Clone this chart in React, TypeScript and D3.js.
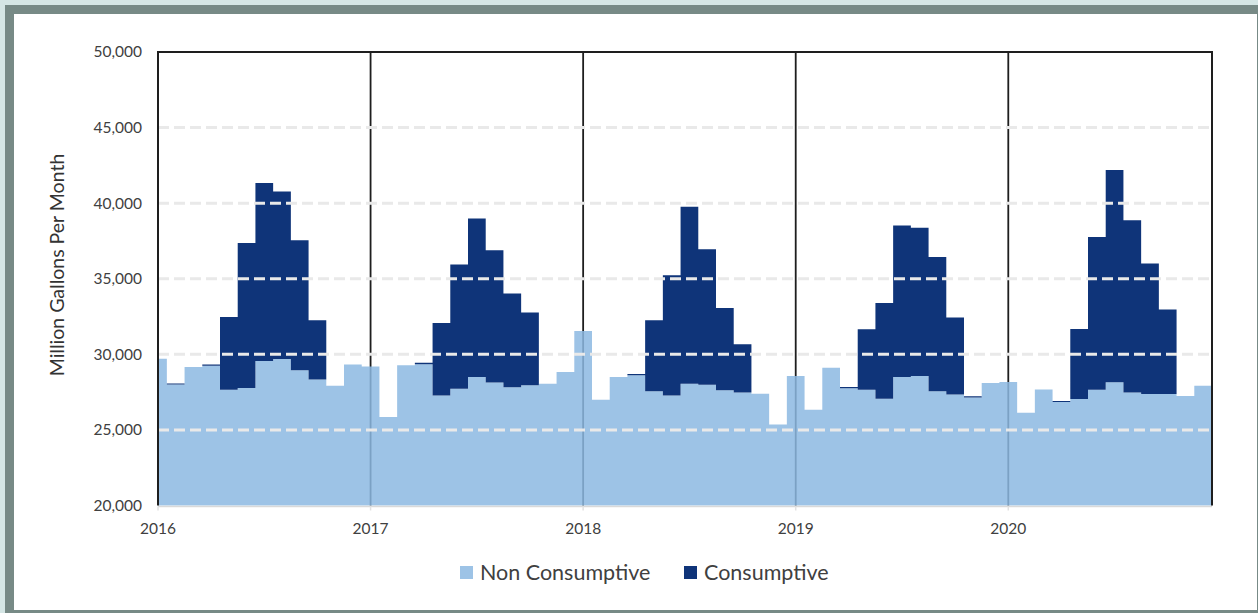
import React from "react";
import * as d3 from "d3";

const years = ["2016", "2017", "2018", "2019", "2020"];
const months = ["Jan", "Feb", "Mar", "Apr", "May", "Jun", "Jul", "Aug", "Sep", "Oct", "Nov", "Dec"];

const nonConsumptive = [
  29715, 28000, 29160, 29250, 27660, 27770, 29560, 29690, 28940, 28340, 27930, 29320,
  29200, 25850, 29270, 29350, 27280, 27730, 28500, 28130, 27830, 27950, 28060, 28830,
  31540, 27000, 28500, 28620, 27550, 27280, 28060, 27990, 27620, 27480, 27400, 25360,
  28560, 26340, 29120, 27760, 27660, 27070, 28500, 28560, 27550, 27350, 27150, 28100,
  28170, 26140, 27680, 26840, 27040, 27660, 28150, 27480, 27370, 27370, 27240, 27930,
];
const consumptive = [
  0, 70, 0, 70, 4810, 9600, 11780, 11080, 8610, 3910, 0, 0,
  0, 0, 0, 90, 4790, 8210, 10490, 8760, 6190, 4810, 0, 0,
  0, 0, 0, 80, 4700, 7950, 11700, 8960, 5450, 3180, 0, 0,
  0, 0, 0, 80, 4000, 6330, 10020, 9810, 8890, 5080, 80, 0,
  0, 0, 0, 80, 4640, 10110, 14040, 11390, 8640, 5590, 0, 0,
];
const yTicks = [20000, 25000, 30000, 35000, 40000, 45000, 50000];
const seriesNames = ["Non Consumptive", "Consumptive"];

const W = 1258, H = 613;
const plot = { left: 158, right: 1212, top: 52, bottom: 505.5 };
const FONT = "Lato, 'Open Sans', sans-serif";

export default function App() {
  const rows = nonConsumptive.map((nc, i) => ({
    i,
    label: `${months[i % 12]} ${years[Math.floor(i / 12)]}`,
    nc,
    c: consumptive[i],
  }));
  const xEnd = rows.length - 0.5;
  const ext = [...rows, { ...rows[rows.length - 1], i: xEnd }];

  const x = d3.scaleLinear().domain([0, xEnd]).range([plot.left, plot.right]);
  const y = d3.scaleLinear().domain([20000, 50000]).range([plot.bottom, plot.top]);

  const stack = d3.stack<any>().keys(["nc", "c"]);
  const layers = stack(ext as any);
  const area = d3
    .area<any>()
    .curve(d3.curveStep)
    .x((d: any) => x(d.data.i))
    .y0((d: any) => y(Math.max(20000, d[0])))
    .y1((d: any) => y(d[1]));

  const fmt = d3.format(",");
  const yearIdx = years.map((_, k) => k * 12);

  return (
    <div style={{ position: "absolute", left: 0, top: 0 }}>
      <svg width={W} height={H} style={{ display: "block" }}>
        <rect x={0} y={0} width={W} height={H} fill="#d5e6e5" />
        <rect x={5} y={5} width={W - 5} height={H - 5} fill="#778a86" />
        <rect x={14} y={14} width={1243} height={596} fill="#ffffff" />

        {/* year lines behind the areas */}
        {yearIdx.slice(1).map((i) => (
          <line key={i} x1={x(i)} x2={x(i)} y1={plot.top} y2={plot.bottom} stroke="#1e1e1e" strokeWidth={1.8} />
        ))}

        <path d={area(layers[0] as any) || ""} fill="rgb(140,184,226)" fillOpacity={0.85} />
        <path d={area(layers[1] as any) || ""} fill="#0f3479" />

        {/* gridlines */}
        {yTicks.slice(1, -1).map((t) => (
          <line key={t} x1={plot.left} x2={plot.right} y1={y(t)} y2={y(t)} stroke="#e9e9e9" strokeWidth={3} strokeDasharray="11,5" />
        ))}

        {/* x axis base line & ticks */}
        <line x1={plot.left} x2={plot.right} y1={plot.bottom + 1} y2={plot.bottom + 1} stroke="#d9d9d9" strokeWidth={1.5} />
        {yearIdx.map((i) => (
          <line key={i} x1={x(i)} x2={x(i)} y1={plot.bottom + 1} y2={plot.bottom + 5} stroke="#e2e2e2" strokeWidth={1.5} />
        ))}

        {/* frame */}
        <line x1={plot.left} x2={plot.right} y1={plot.top} y2={plot.top} stroke="#1e1e1e" strokeWidth={2} />
        <line x1={plot.left} x2={plot.left} y1={plot.top - 1} y2={plot.bottom} stroke="#1e1e1e" strokeWidth={2} />
        <line x1={plot.right} x2={plot.right} y1={plot.top - 1} y2={plot.bottom} stroke="#1e1e1e" strokeWidth={2} />

        {/* y labels */}
        {yTicks.map((t) => (
          <text key={t} x={142} y={y(t)} dy="0.35em" textAnchor="end" fontFamily={FONT} fontSize={15.5} fill="#404040">
            {fmt(t)}
          </text>
        ))}
        {/* x labels */}
        {yearIdx.map((i, k) => (
          <text key={i} x={x(i)} y={534} textAnchor="middle" fontFamily={FONT} fontSize={15.5} fill="#404040">
            {years[k]}
          </text>
        ))}

        <text
          transform={`translate(64,265) rotate(-90)`}
          textAnchor="middle"
          fontFamily={FONT}
          fontSize={19.5}
          fill="#333333"
        >
          Million Gallons Per Month
        </text>

        {/* legend */}
        <rect x={460} y={566} width={13} height={13} fill="#9dc3e6" />
        <text x={480} y={572.5} dy="0.35em" fontFamily={FONT} fontSize={21.5} fill="#404040">
          {seriesNames[0]}
        </text>
        <rect x={684} y={566} width={13} height={13} fill="#0f3479" />
        <text x={704} y={572.5} dy="0.35em" fontFamily={FONT} fontSize={21.5} fill="#404040">
          {seriesNames[1]}
        </text>
      </svg>
    </div>
  );
}
